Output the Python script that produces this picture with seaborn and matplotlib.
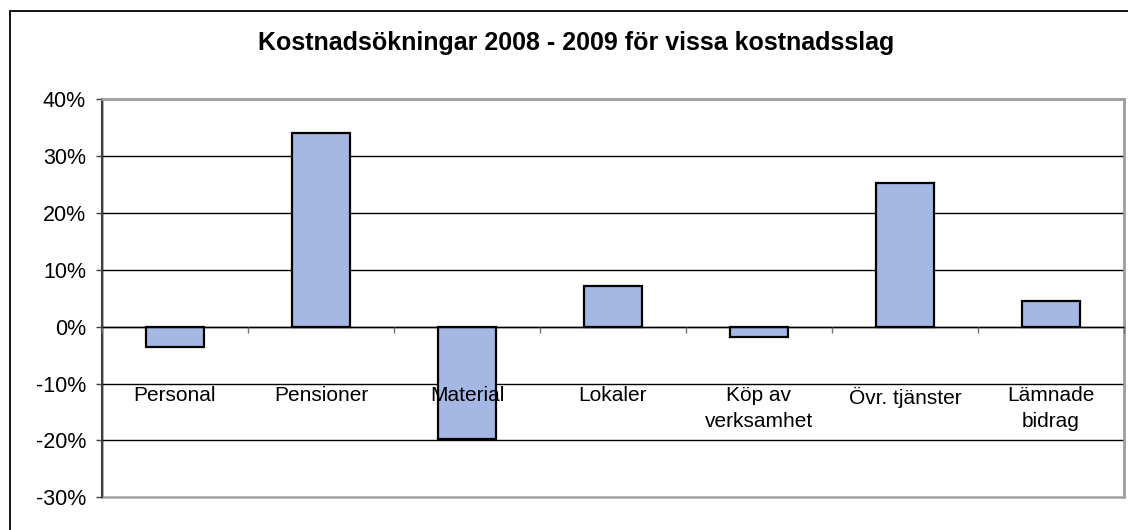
import matplotlib
matplotlib.use("Agg")
import matplotlib.pyplot as plt
from matplotlib.patches import Rectangle
from matplotlib.ticker import PercentFormatter, FixedLocator
import seaborn as sns

categories = ["Personal", "Pensioner", "Material", "Lokaler",
              "Köp av\nverksamhet", "Övr. tjänster", "Lämnade\nbidrag"]
values = [-0.035, 0.341, -0.197, 0.072, -0.018, 0.252, 0.046]
yticks = [-0.3, -0.2, -0.1, 0.0, 0.1, 0.2, 0.3, 0.4]
title = "Kostnadsökningar 2008 - 2009 för vissa kostnadsslag"

sns.set_style("white")
plt.rcParams['font.family'] = ['Liberation Sans', 'DejaVu Sans']
plt.rcParams['axes.unicode_minus'] = False
plt.rcParams['text.color'] = 'black'

fig = plt.figure(figsize=(11.28, 5.30), dpi=100)
ax = fig.add_axes([0.0904, 0.0617, 0.906, 0.7509])

sns.barplot(x=categories, y=values, color="#A5B8E3", saturation=1,
            edgecolor="black", linewidth=1.6, width=0.4, ax=ax)

ax.set_xlim(-0.5, len(categories) - 0.5)
ax.set_ylim(yticks[0], yticks[-1])
ax.set_yticks(yticks)
ax.yaxis.set_major_formatter(PercentFormatter(1.0, decimals=0))
ax.tick_params(axis="y", labelsize=15.5, length=4.5, width=1, pad=7,
               color="#404040", labelcolor="black", left=True)

# horizontal grid lines (the outer ones are replaced by the gray border)
ax.set_axisbelow(True)
ax.yaxis.grid(True, color="black", linewidth=1)
gl = ax.get_ygridlines()
gl[0].set_visible(False)
gl[-1].set_visible(False)

# category axis sits on the zero line, ticks between categories
ax.spines["bottom"].set_position(("data", 0))
ax.spines["bottom"].set_color("black")
ax.spines["bottom"].set_linewidth(1)
ax.xaxis.set_minor_locator(FixedLocator([i + 0.5 for i in range(-1, len(categories))]))
ax.tick_params(axis="x", which="major", length=0, labelsize=15, pad=43,
               labelcolor="black")
ax.tick_params(axis="x", which="minor", bottom=True, length=4.5, width=1, color="#707070")
for lbl in ax.get_xticklabels():
    lbl.set_linespacing(1.45)
ax.xaxis.set_zorder(3)
ax.set_xlabel("")

ax.spines["left"].set_color("#404040")
ax.spines["left"].set_linewidth(1.5)
for s in ["top", "right"]:
    ax.spines[s].set_color("#A0A0A0")
    ax.spines[s].set_linewidth(1.8)
ax.patch.set_edgecolor("#A0A0A0")
ax.patch.set_linewidth(1.8)

fig.text(0.511, 0.919, title, ha="center", va="center",
         fontsize=18, fontweight="bold", color="black")

# outer chart frame
fig.patches.append(Rectangle((0.0089, -0.1), 1.2, 1.079, transform=fig.transFigure,
                             fill=False, edgecolor="black", linewidth=1.3))

fig.savefig("out.png", dpi=100)
